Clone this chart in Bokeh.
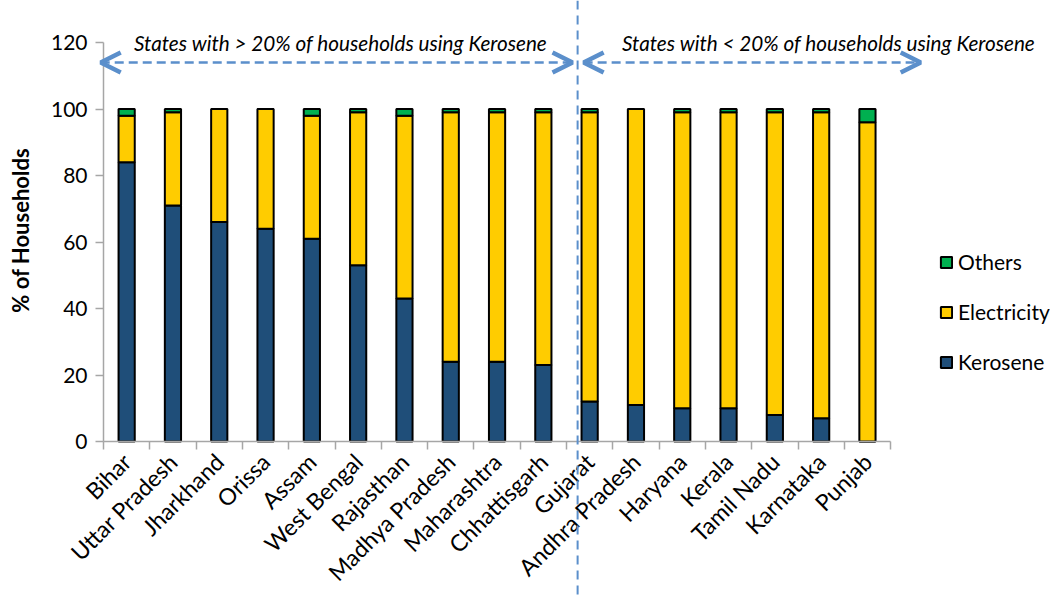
import math
from bokeh.plotting import figure
from bokeh.models import (ColumnDataSource, Range1d, FixedTicker, Legend, LegendItem,
                          Label, Arrow, OpenHead, Span)
from bokeh.embed import file_html
from bokeh.resources import INLINE

states = ["Bihar", "Uttar Pradesh", "Jharkhand", "Orissa", "Assam", "West Bengal",
          "Rajasthan", "Madhya Pradesh", "Maharashtra", "Chhattisgarh", "Gujarat",
          "Andhra Pradesh", "Haryana", "Kerala", "Tamil Nadu", "Karnataka", "Punjab"]
kerosene = [84, 71, 66, 64, 61, 53, 43, 24, 24, 23, 12, 11, 10, 10, 8, 7, 0]
electricity = [14, 28, 34, 36, 37, 46, 55, 75, 75, 76, 87, 89, 89, 89, 91, 92, 96]
others = [2, 1, 0, 0, 2, 1, 2, 1, 1, 1, 1, 0, 1, 1, 1, 1, 4]
y_ticks = [0, 20, 40, 60, 80, 100, 120]
y_title = "% of Households"
group_labels = ["States with > 20% of households using Kerosene",
                "States with < 20% of households using Kerosene"]

FONT = "Lato"
BLUE = "#5B8FCB"
n = len(states)
xs = [i + 0.5 for i in range(n)]
k_top = kerosene
e_top = [k + e for k, e in zip(kerosene, electricity)]
o_top = [t + o for t, o in zip(e_top, others)]

src = ColumnDataSource(dict(x=xs, k0=[0] * n, k1=k_top, e1=e_top, o1=o_top))

W, H = 1050, 600
X0, XS = 103, 46.3      # pixel of x=0, pixels per category
Y0, YS = 441, 3.325     # pixel of y=0, pixels per unit
p = figure(width=W, height=H, output_backend="svg", toolbar_location=None,
           x_range=Range1d(-X0 / XS, (W - X0) / XS),
           y_range=Range1d(-(H - Y0) / YS, Y0 / YS),
           frame_width=W, frame_height=H,
           min_border_left=0, min_border_top=0, min_border_right=0,
           min_border_bottom=0)
p.outline_line_color = None
p.grid.visible = False

bw = 0.35
rk = p.vbar(x="x", bottom="k0", top="k1", width=bw, source=src,
            fill_color="#1F4E79", line_color="black", line_width=2)
re_ = p.vbar(x="x", bottom="k1", top="e1", width=bw, source=src,
             fill_color="#FFCC00", line_color="black", line_width=2)
ro = p.vbar(x="x", bottom="e1", top="o1", width=bw, source=src,
            fill_color="#00B050", line_color="black", line_width=2)

# axes
p.yaxis.fixed_location = 0
p.yaxis.ticker = FixedTicker(ticks=y_ticks)
p.yaxis.bounds = (0, 120)
p.yaxis.major_label_text_font = FONT
p.yaxis.major_label_text_font_size = "21px"
p.yaxis.major_label_text_color = "black"
p.yaxis.major_label_standoff = 8
p.yaxis.major_tick_out = 8
p.yaxis.major_tick_in = 0
p.yaxis.minor_tick_out = 0
p.yaxis.minor_tick_in = 0

p.xaxis.fixed_location = 0
p.xaxis.bounds = (0, n)
p.xaxis.ticker = FixedTicker(ticks=xs, minor_ticks=list(range(n + 1)))
p.xaxis.major_label_overrides = {x: s for x, s in zip(xs, states)}
p.xaxis.major_label_orientation = math.pi / 4
p.xaxis.major_label_text_font = FONT
p.xaxis.major_label_text_font_size = "23px"
p.xaxis.major_label_text_color = "black"
p.xaxis.major_tick_out = 0
p.xaxis.major_tick_in = 0
p.xaxis.minor_tick_out = 8
p.xaxis.minor_tick_in = 0
p.xaxis.major_label_standoff = 8

for ax in (p.xaxis, p.yaxis):
    ax.axis_line_color = "#A6A6A6"
    ax.axis_line_width = 1.5
    ax.major_tick_line_color = "#A6A6A6"
    ax.minor_tick_line_color = "#A6A6A6"
    ax.major_tick_line_width = 1.5
    ax.minor_tick_line_width = 1.5

# y-axis title
p.add_layout(Label(x=-83 / XS, y=63.5, text=y_title, angle=math.pi / 2,
                   text_align="center", text_baseline="middle", text_font=FONT,
                   text_font_style="bold", text_font_size="22px", text_color="black"))

# divider line
p.add_layout(Span(location=10.24, dimension="height", line_color=BLUE,
                  line_width=2, line_dash="9 6"))
# double arrows
for xa, xb in ((-0.06, 10.13), (10.37, 17.65)):
    p.add_layout(Arrow(x_start=xa, y_start=114, x_end=xb, y_end=114,
                       start=OpenHead(size=20, line_color=BLUE, line_width=4.5),
                       end=OpenHead(size=20, line_color=BLUE, line_width=4.5),
                       line_color=BLUE, line_width=2.5, line_dash="9 5"))
for xc, t in zip((5.12, 15.66), group_labels):
    p.add_layout(Label(x=xc, y=120, text=t, text_align="center", text_baseline="middle",
                       text_font=FONT, text_font_style="italic", text_font_size="20.7px",
                       text_color="black"))

legend = Legend(items=[LegendItem(label="Others", renderers=[ro]),
                       LegendItem(label="Electricity", renderers=[re_]),
                       LegendItem(label="Kerosene", renderers=[rk])],
                location=(939, 226), orientation="vertical",
                label_text_font=FONT, label_text_font_size="21px",
                label_text_color="black",
                glyph_width=14, glyph_height=14, spacing=25,
                background_fill_alpha=0, border_line_color=None,
                label_standoff=5, padding=0, margin=0)
p.add_layout(legend, "center")

open("out.html", "w").write(file_html(p, INLINE))
